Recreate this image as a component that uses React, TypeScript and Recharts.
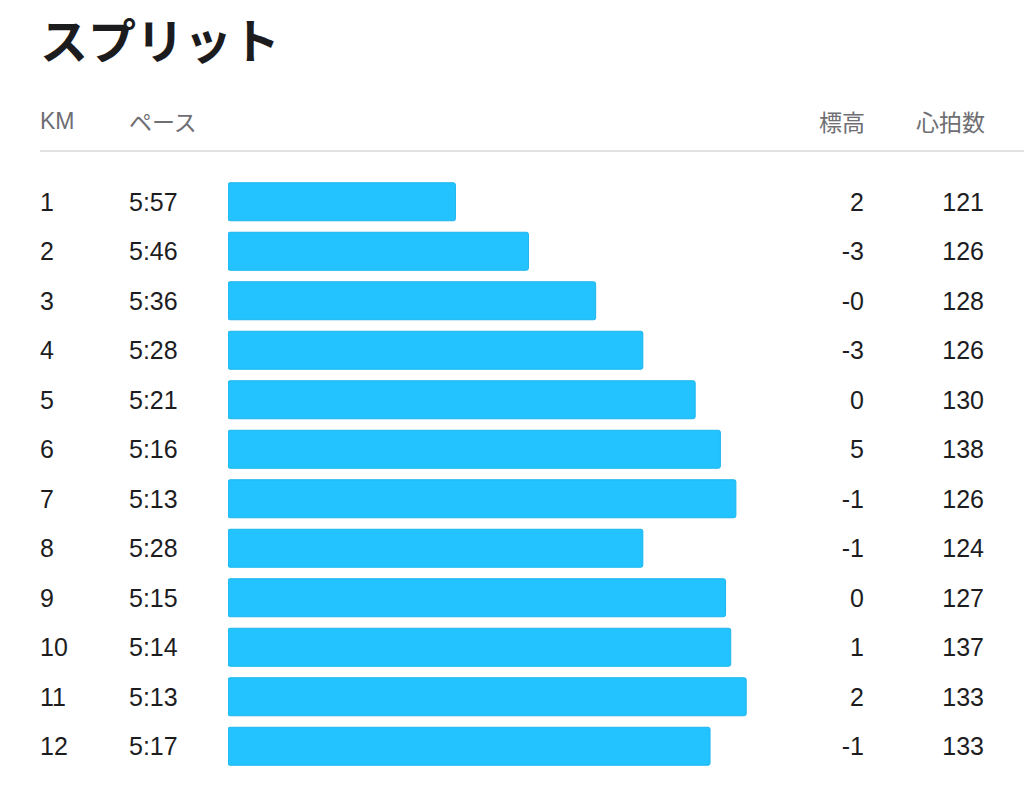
import { BarChart, Bar, XAxis, YAxis } from 'recharts'

const kmLabels = ['1', '2', '3', '4', '5', '6', '7', '8', '9', '10', '11', '12']
const paceLabels = ['5:57', '5:46', '5:36', '5:28', '5:21', '5:16', '5:13', '5:28', '5:15', '5:14', '5:13', '5:17']
// pace per km in seconds
const paceSeconds = [357, 345.7, 335.3, 328, 319.9, 316, 313.6, 328, 315.2, 314.4, 312, 317.6]
const elevationLabels = ['2', '-3', '-0', '-3', '0', '5', '-1', '-1', '0', '1', '2', '-1']
const heartRates = [121, 126, 128, 126, 130, 138, 126, 124, 127, 137, 133, 133]

// bars grow from the slow end of the pace scale
const paceAxisZero = 392.2
const paceAxisFast = 273.5

const rows = kmLabels.map((km, i) => ({
  km,
  paceRange: [paceAxisZero, paceSeconds[i]],
}))

const textFont = '"Liberation Sans", "Noto Sans CJK JP", sans-serif'
const jpFont = '"Noto Sans CJK JP", "Liberation Sans", sans-serif'

function RowTick (props: any) {
  const { y, payload } = props
  const i = kmLabels.indexOf(String(payload.value))
  const common = {
    y,
    fill: '#1d1d1f',
    fontSize: 25,
    fontFamily: textFont,
    dominantBaseline: 'central' as const,
  }
  return (
    <g>
      <text {...common} x={40}>{kmLabels[i]}</text>
      <text {...common} x={129}>{paceLabels[i]}</text>
      <text {...common} x={864} textAnchor='end'>{elevationLabels[i]}</text>
      <text {...common} x={984} textAnchor='end'>{heartRates[i]}</text>
    </g>
  )
}

const headStyle = {
  position: 'absolute' as const,
  top: 108,
  lineHeight: '26px',
  fontSize: 23,
  color: '#6e6e73',
  fontFamily: jpFont,
  whiteSpace: 'nowrap' as const,
}

export default function App () {
  return (
    <div style={{ position: 'relative', width: 1024, height: 793, background: '#fff', overflow: 'hidden' }}>
      <style>{'body{margin:0}'}</style>

      <div
        style={{
          position: 'absolute',
          left: 40,
          top: 12,
          fontSize: 48,
          lineHeight: '52px',
          fontWeight: 700,
          color: '#1c1c1e',
          fontFamily: jpFont,
        }}
      >
        スプリット
      </div>

      <div style={{ ...headStyle, left: 40, fontFamily: textFont }}>KM</div>
      <div style={{ ...headStyle, left: 129 }}>ペース</div>
      <div style={{ ...headStyle, right: 159 }}>標高</div>
      <div style={{ ...headStyle, right: 39 }}>心拍数</div>

      <div style={{ position: 'absolute', left: 40, right: 0, top: 150, height: 2, background: '#e1e1e3' }} />

      <div style={{ position: 'absolute', left: 0, top: 0 }}>
        <BarChart
          width={1024}
          height={793}
          data={rows}
          layout='vertical'
          margin={{ top: 176.75, right: 29, bottom: 22.25, left: 0 }}
        >
          <XAxis
            type='number'
            hide
            reversed
            domain={[paceAxisFast, paceAxisZero]}
            allowDataOverflow
          />
          <YAxis
            type='category'
            dataKey='km'
            width={228}
            interval={0}
            axisLine={false}
            tickLine={false}
            tick={<RowTick />}
          />
          <Bar
            dataKey='paceRange'
            fill='#22c3fe'
            stroke='#1db5ee'
            strokeWidth={1}
            barSize={38}
            radius={2}
            isAnimationActive={false}
          />
        </BarChart>
      </div>
    </div>
  )
}
